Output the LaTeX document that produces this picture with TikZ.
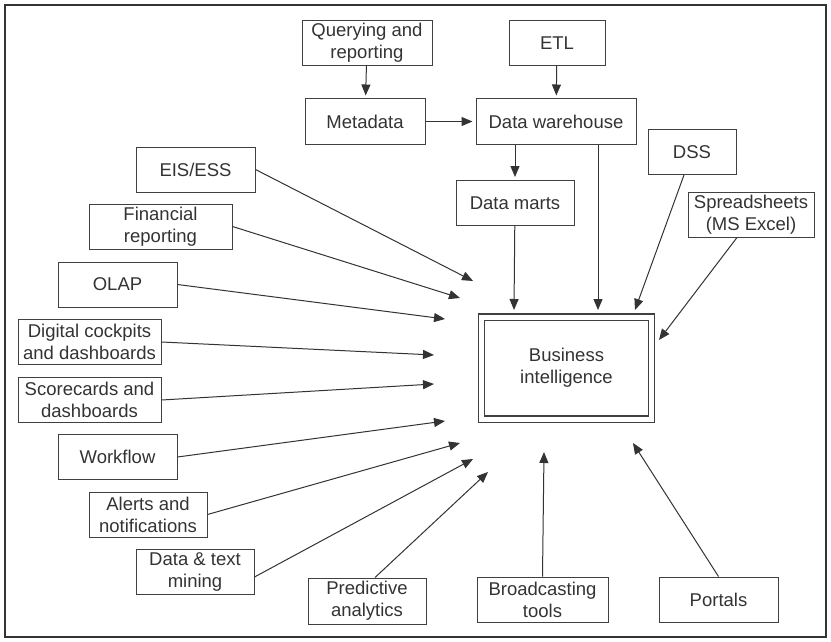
\documentclass[tikz,border=0pt]{standalone}
\usepackage{fontspec}
\setmainfont{Liberation Sans}
\usetikzlibrary{arrows.meta, positioning}
\tikzset{
  item/.style={
    rectangle, draw=black!75, line width=1pt,
    align=center, text=black!80,
    font=\fontsize{18.5}{22}\selectfont,
    minimum height=45, minimum width=119,
    inner sep=2pt,
  },
  core/.style={
    item,
    double, double distance=5pt, line width=1.2pt,
    minimum width=170, minimum height=102,
  },
  feed/.style={
    draw=black!80, line width=1pt,
    -{Triangle[length=11pt, width=9pt]}
  },
  wide/.style={
    minimum width=143
  },
}

\begin{document}
\begin{tikzpicture}[x=1pt, y=-1pt]
  \useasboundingbox (0,0) rectangle (831,642);
  \draw[line width=1.6pt, black!80] (5,5) rectangle (826,637);

  % warehouse chain
  \node[item, minimum width=130] (query) at (367,43) {Querying and\\reporting};
  \node[item, minimum width=96] (etl) at (557,43) {ETL};
  \node[item, minimum width=120] (meta) at (365,121.5) {Metadata};
  \node[item, minimum width=160] (dw) at (556,121.5) {Data warehouse};
  \node[item, minimum width=118] (marts) at (515,203) {Data marts};
  \node[item, minimum width=88] (dss) at (692,152) {DSS};
  \node[item, minimum width=126] (sheets) at (751,214.5) {Spreadsheets\\(MS Excel)};
  \node[core] (bi) at (566.5,368) {Business\\intelligence};

  % left side
  \node[item] (eis) at (195.5,169.5) {EIS/ESS};
  \node[item, wide] (fin) at (160.5,226.5) {Financial\\reporting};
  \node[item] (olap) at (117.5,284.5) {OLAP};
  \node[item, wide] (cock) at (89.5,342) {Digital cockpits\\and dashboards};
  \node[item, wide] (score) at (89.5,400) {Scorecards and\\dashboards};
  \node[item] (work) at (117.5,457) {Workflow};
  \node[item, minimum width=118] (alert) at (148,514.5) {Alerts and\\notifications};
  \node[item, minimum width=118] (mine) at (195,572) {Data \& text\\mining};

  % bottom
  \node[item, minimum width=118, minimum height=46] (pred) at (367,601) {Predictive\\analytics};
  \node[item, minimum width=131] (broad) at (542.5,599.5) {Broadcasting\\tools};
  \node[item] (portal) at (718.5,599.5) {Portals};

  % arrow tips around the core
  \coordinate (eis-in) at (473,281);
  \coordinate (fin-in) at (460,298);
  \coordinate (olap-in) at (445,319);
  \coordinate (cock-in) at (434,355);
  \coordinate (score-in) at (434,384);
  \coordinate (work-in) at (445,421);
  \coordinate (alert-in) at (460,443);
  \coordinate (mine-in) at (473,459);
  \coordinate (pred-in) at (488,472);
  \coordinate (broad-in) at (544,452);
  \coordinate (portal-in) at (633,443);
  \coordinate (dss-in) at (635,310);
  \coordinate (sheets-in) at (659,340);
  \coordinate (marts-in) at (514,310);
  \coordinate (dw-in) at (598,310);

  \draw[feed, shorten >=3pt] (query) -- (meta);
  \draw[feed, shorten >=3pt] (etl) -- (dw);
  \draw[feed, shorten >=3pt] (meta) -- (dw);
  \draw[feed, shorten >=3pt] (dw.south -| marts) -- (marts);
  \draw[feed] (marts) -- (marts-in);
  \draw[feed] (dw.south -| dw-in) -- (dw-in);
  \draw[feed] ([xshift=-8]dss.south) -- (dss-in);
  \draw[feed] ([xshift=-14]sheets.south) -- (sheets-in);

  \draw[feed] (eis.east) -- (eis-in);
  \draw[feed] (fin.east) -- (fin-in);
  \draw[feed] (olap.east) -- (olap-in);
  \draw[feed] (cock.east) -- (cock-in);
  \draw[feed] (score.east) -- (score-in);
  \draw[feed] (work.east) -- (work-in);
  \draw[feed] (alert.east) -- (alert-in);
  \draw[feed] ([yshift=-5]mine.east) -- (mine-in);
  \draw[feed] ([xshift=8]pred.north) -- (pred-in);
  \draw[feed] (broad.north) -- (broad-in);
  \draw[feed] (portal.north) -- (portal-in);
\end{tikzpicture}
\end{document}
